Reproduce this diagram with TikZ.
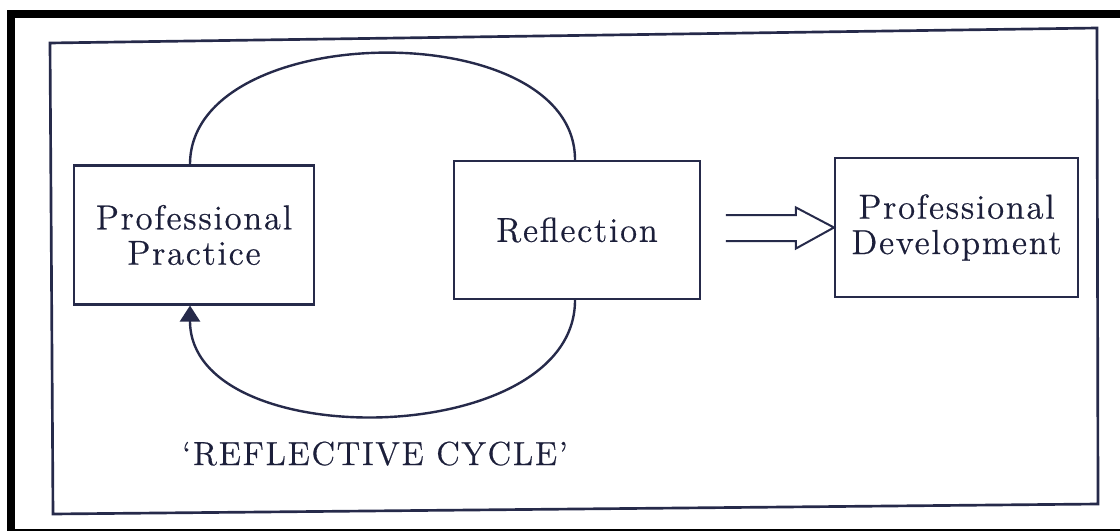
\documentclass[tikz,border=0pt]{standalone}
\usepackage{fontspec}
\usetikzlibrary{arrows.meta,calc}
\newfontfamily\boxfnt{lmroman12-regular.otf}[Ligatures=TeX,LetterSpace=5,FakeBold=0.5]
\newfontfamily\lblfnt{lmroman12-regular.otf}[Ligatures=TeX,LetterSpace=5,FakeBold=0.5]
\definecolor{ink}{HTML}{262A4A}
\definecolor{txt}{HTML}{1C1F3A}
\begin{document}
\begin{tikzpicture}[x=0.75pt,y=-0.75pt,
  ln/.style={draw=ink,line width=1.8pt},
  boxnode/.style={ln,rectangle,align=center,text=txt,inner sep=0pt,
    font=\boxfnt\fontsize{26}{26.5}\selectfont},
  lbl/.style={text=txt,inner sep=0pt,
    font=\lblfnt\fontsize{25}{26}\selectfont}]
\useasboundingbox (0,0) rectangle (1120,531);
\clip (0,0) rectangle (1120,531);
\fill[white] (0,0) rectangle (1120,531);
% thick black frame
\draw[black,line width=6pt] (11,14) rectangle (1140,533);
% inner frame
\draw[ln,line width=2pt] (50,43) -- (1097,28) -- (1098,504) -- (53,514) -- cycle;
% boxes
\node[boxnode,minimum width=180pt,minimum height=104pt] (pp) at (194,235) {Professional\\Practice};
\node[boxnode,minimum width=184.5pt,minimum height=103.5pt] (rf) at (577,230) {Reflection};
\node[boxnode,minimum width=182pt,minimum height=104pt] (pd) at (956.5,227.5) {Professional\\Development};
% top arc
\draw[ln] ([xshift=-3pt]pp.north) .. controls +(0,-146) and +(0,-146) .. ([xshift=-1.5pt]rf.north);
% bottom arc with arrow
\draw[ln,-{Triangle[length=12pt,width=15pt]}] ([xshift=-1.5pt]rf.south) .. controls +(0,150) and +(0,150) .. ([xshift=-3pt]pp.south);
% double open arrow
\draw[ln,line width=1.5pt,line join=miter]
  ($(pd.west)+(-108,-12.5)$) -- ($(pd.west)+(-38,-12.5)$) -- ($(pd.west)+(-38,-20)$)
  -- (pd.west) -- ($(pd.west)+(-38,21)$) -- ($(pd.west)+(-38,13.5)$) -- ($(pd.west)+(-108,13.5)$);
% label
\node[lbl,anchor=base west] (cyc) at (182,465) {‘REFLECTIVE CYCLE’};
\end{tikzpicture}
\end{document}
